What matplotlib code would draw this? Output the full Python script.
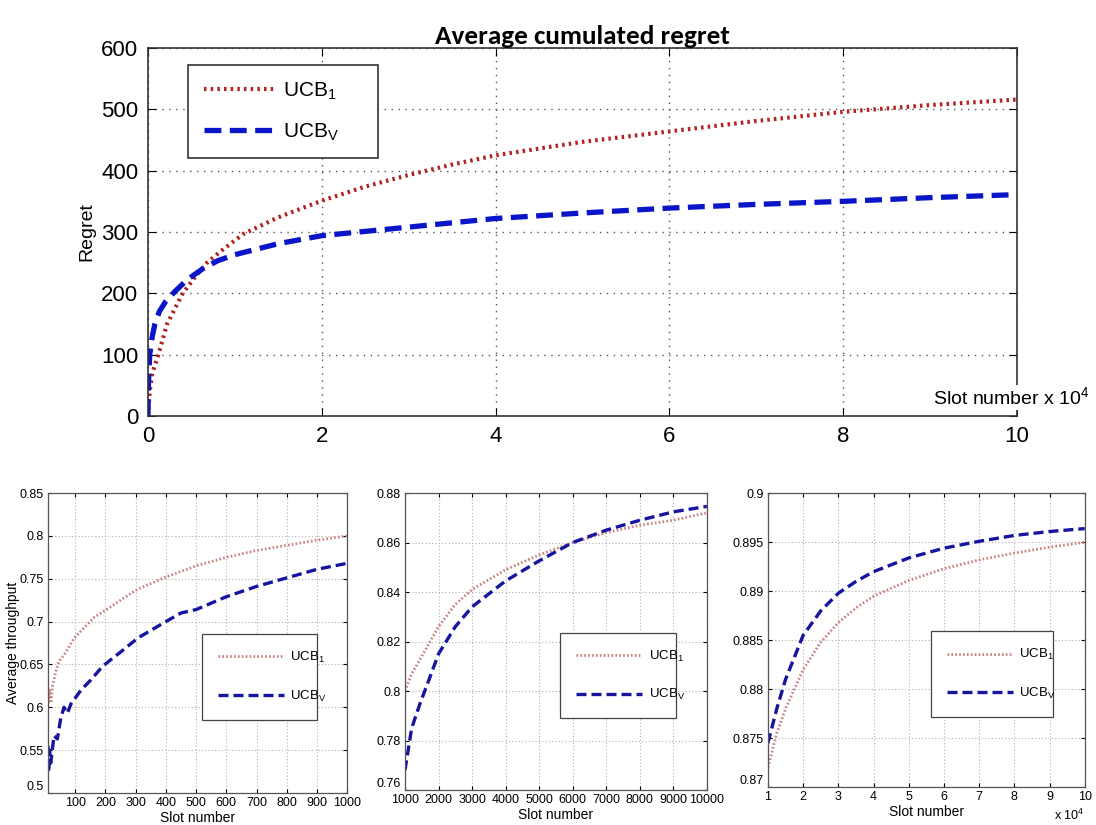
import matplotlib
matplotlib.use("Agg")
import matplotlib.pyplot as plt

# cumulated regret, slots in units of 1e4
regret_x_ucb1 = [0, 0.02, 0.05, 0.12, 0.22, 0.4, 0.55, 0.68, 0.85, 1.1, 1.5, 2, 2.5, 3, 3.5, 4, 5, 6, 7, 8, 9, 10]
regret_ucb1 = [0, 40, 70, 100, 150, 200, 228, 250, 270, 297, 324, 351, 374, 393, 410, 425, 447, 464, 481,
               496, 507, 516]
regret_x_ucbv = [0, 0.005, 0.02, 0.05, 0.08, 0.13, 0.2, 0.31, 0.45, 0.63, 0.8, 1, 1.5, 2, 3, 4, 5, 6, 7, 8,
                 9, 10]
regret_ucbv = [0, 50, 100, 130, 150, 170, 186, 203, 222, 240, 253, 263, 281, 294, 308, 322, 331, 339, 345,
               350, 356, 361]

# average throughput, first 1000 slots
thr1_x_ucb1 = [10, 15, 20, 25, 36, 47, 63, 97, 130, 163, 208, 263, 308, 400, 500, 600, 700, 800, 900, 1000]
thr1_ucb1 = [0.60, 0.62, 0.605, 0.625, 0.642, 0.654, 0.661, 0.681, 0.693, 0.705, 0.715, 0.728, 0.738,
             0.752, 0.765, 0.775, 0.783, 0.789, 0.795, 0.80]
thr1_x_ucbv = [10, 12, 15, 19, 30, 41, 52, 63, 74, 86, 119, 152, 191, 252, 308, 400, 450, 500, 600, 700,
               800, 900, 1000]
thr1_ucbv = [0.555, 0.524, 0.55, 0.535, 0.567, 0.563, 0.587, 0.60, 0.593, 0.604, 0.62, 0.632, 0.648,
             0.665, 0.681, 0.70, 0.71, 0.714, 0.729, 0.741, 0.751, 0.761, 0.768]

# average throughput, 1000 to 10000 slots
thr2_x_ucb1 = [1000, 1200, 1500, 2000, 2500, 3000, 4000, 5000, 6000, 7000, 8000, 9000, 10000]
thr2_ucb1 = [0.800, 0.807, 0.814, 0.826, 0.835, 0.841, 0.849, 0.855, 0.860, 0.864, 0.867, 0.869, 0.872]
thr2_x_ucbv = [1000, 1200, 1450, 1700, 2000, 2500, 3000, 4000, 5000, 6000, 7000, 8000, 9000, 10000]
thr2_ucbv = [0.768, 0.785, 0.795, 0.804, 0.815, 0.826, 0.834, 0.8445, 0.8526, 0.860, 0.865, 0.869,
             0.8724, 0.8746]

# average throughput, 1e4 to 1e5 slots (units of 1e4)
thr3_x = [1, 1.25, 1.5, 2, 2.5, 3, 3.5, 4, 5, 6, 7, 8, 9, 10]
thr3_ucb1 = [0.872, 0.8755, 0.878, 0.882, 0.8848, 0.8868, 0.8883, 0.8895, 0.8911, 0.8923, 0.8932,
             0.8939, 0.8945, 0.895]
thr3_ucbv = [0.8745, 0.878, 0.881, 0.8855, 0.888, 0.8898, 0.891, 0.892, 0.8934, 0.8944, 0.8951,
             0.8957, 0.8961, 0.8964]

label_ucb1 = r'UCB$_\mathregular{1}$'
label_ucbv = r'UCB$_\mathregular{V}$'

big_font = ['Liberation Sans', 'DejaVu Sans']
small_font = ['Liberation Sans Narrow', 'Liberation Sans', 'DejaVu Sans']
plt.rcParams['mathtext.fontset'] = 'custom'
plt.rcParams['mathtext.rm'] = 'Liberation Sans'

fig = plt.figure(figsize=(10.96, 8.25), dpi=100)

# ---- top panel: regret ----
ax = fig.add_axes([0.135, 0.4958, 0.793, 0.446])
ax.plot(regret_x_ucb1, regret_ucb1, color='#b22222', linestyle=(0, (0.6, 1.0)), linewidth=3.0,
        label=label_ucb1)
ax.plot(regret_x_ucbv, regret_ucbv, color='#0a14c8', linestyle=(0, (3.2, 1.6)), linewidth=3.8,
        label=label_ucbv)
ax.set_xlim(0, 10)
ax.set_ylim(0, 600)
ax.set_xticks(range(0, 11, 2))
ax.set_yticks(range(0, 601, 100))
ax.grid(True, color='#555555', linestyle=(0, (1, 4)), linewidth=1)
ax.tick_params(direction='in', top=True, right=True, length=6, labelsize=16, pad=7)
for lab in ax.get_xticklabels() + ax.get_yticklabels():
    lab.set_family(big_font)
for sp in ax.spines.values():
    sp.set_color('#333333')
    sp.set_linewidth(1.2)
ax.set_ylabel('Regret', fontsize=14, family=big_font, labelpad=4)
ax.set_title('Average cumulated regret', fontsize=19.5, family=['Carlito', 'Open Sans', 'DejaVu Sans'],
             fontweight='bold', pad=3)
ax.text(1.084, 0.05, r'Slot number x 10$^\mathregular{4}$', transform=ax.transAxes, ha='right',
        va='center', fontsize=14, family=big_font, zorder=10,
        bbox=dict(facecolor='white', edgecolor='none', pad=1), clip_on=False)
leg = ax.legend(loc='upper left', bbox_to_anchor=(0.046, 0.954, 0.219, 0.0), mode='expand',
                prop={'family': big_font, 'size': 15}, handlelength=3.4,
                labelspacing=0.9, borderpad=0.75, borderaxespad=0, fancybox=False, framealpha=1,
                edgecolor='#333333', handletextpad=0.4)
leg.get_frame().set_linewidth(1.2)


def small_panel(rect, x1, y1, xv, yv, xlim, ylim, xticks, yticks):
    a = fig.add_axes(rect)
    a.plot(x1, y1, color='#c98080', linestyle=(0, (0.6, 0.8)), linewidth=2.0, label=label_ucb1)
    a.plot(xv, yv, color='#1515a0', linestyle=(0, (3, 1.5)), linewidth=2.4, label=label_ucbv)
    a.set_xlim(*xlim)
    a.set_ylim(*ylim)
    a.set_xticks(xticks)
    a.set_yticks(yticks)
    a.set_yticklabels(['%g' % v for v in yticks])
    a.set_xticklabels(['%g' % v for v in xticks])
    a.grid(True, color='#b0b0b0', linestyle=(0, (1, 2)), linewidth=0.8)
    a.tick_params(direction='in', top=True, right=True, length=3, labelsize=9, pad=3)
    for lab in a.get_xticklabels() + a.get_yticklabels():
        lab.set_family(small_font)
    # lowest y label sits a little above the corner, clear of the first x label
    a.get_yticklabels()[0].set_verticalalignment('bottom')
    for sp in a.spines.values():
        sp.set_color('#555555')
        sp.set_linewidth(0.9)
    a.set_xlabel('Slot number', fontsize=10, family=small_font, labelpad=1)
    lg = a.legend(loc='upper left', bbox_to_anchor=(0.514, 0.53, 0.385, 0.0), mode='expand',
                  prop={'family': small_font, 'size': 9.5}, handlelength=5.0, labelspacing=1.8,
                  borderpad=1.2, borderaxespad=0, fancybox=False, framealpha=1, edgecolor='#444444',
                  handletextpad=0.5)
    lg.get_frame().set_linewidth(0.9)
    return a


ax1 = small_panel([0.0438, 0.0388, 0.273, 0.3636], thr1_x_ucb1, thr1_ucb1, thr1_x_ucbv, thr1_ucbv,
                  (10, 1000), (0.5, 0.85), list(range(100, 1001, 100)),
                  [0.5, 0.55, 0.6, 0.65, 0.7, 0.75, 0.8, 0.85])
ax1.set_ylabel('Average throughput', fontsize=10, family=small_font, labelpad=0)

ax2 = small_panel([0.3695, 0.0424, 0.2755, 0.36], thr2_x_ucb1, thr2_ucb1, thr2_x_ucbv, thr2_ucbv,
                  (1000, 10000), (0.76, 0.88), list(range(1000, 10001, 1000)),
                  [0.76, 0.78, 0.8, 0.82, 0.84, 0.86, 0.88])

ax3 = small_panel([0.7007, 0.046, 0.289, 0.356], thr3_x, thr3_ucb1, thr3_x, thr3_ucbv,
                  (1, 10), (0.87, 0.9), list(range(1, 11)),
                  [0.87, 0.875, 0.88, 0.885, 0.89, 0.895, 0.9])
ax3.text(1.0, -0.095, r'x 10$^\mathregular{4}$', transform=ax3.transAxes, ha='right', va='center',
         fontsize=9, family=small_font)

fig.savefig('out.png', dpi=100)
